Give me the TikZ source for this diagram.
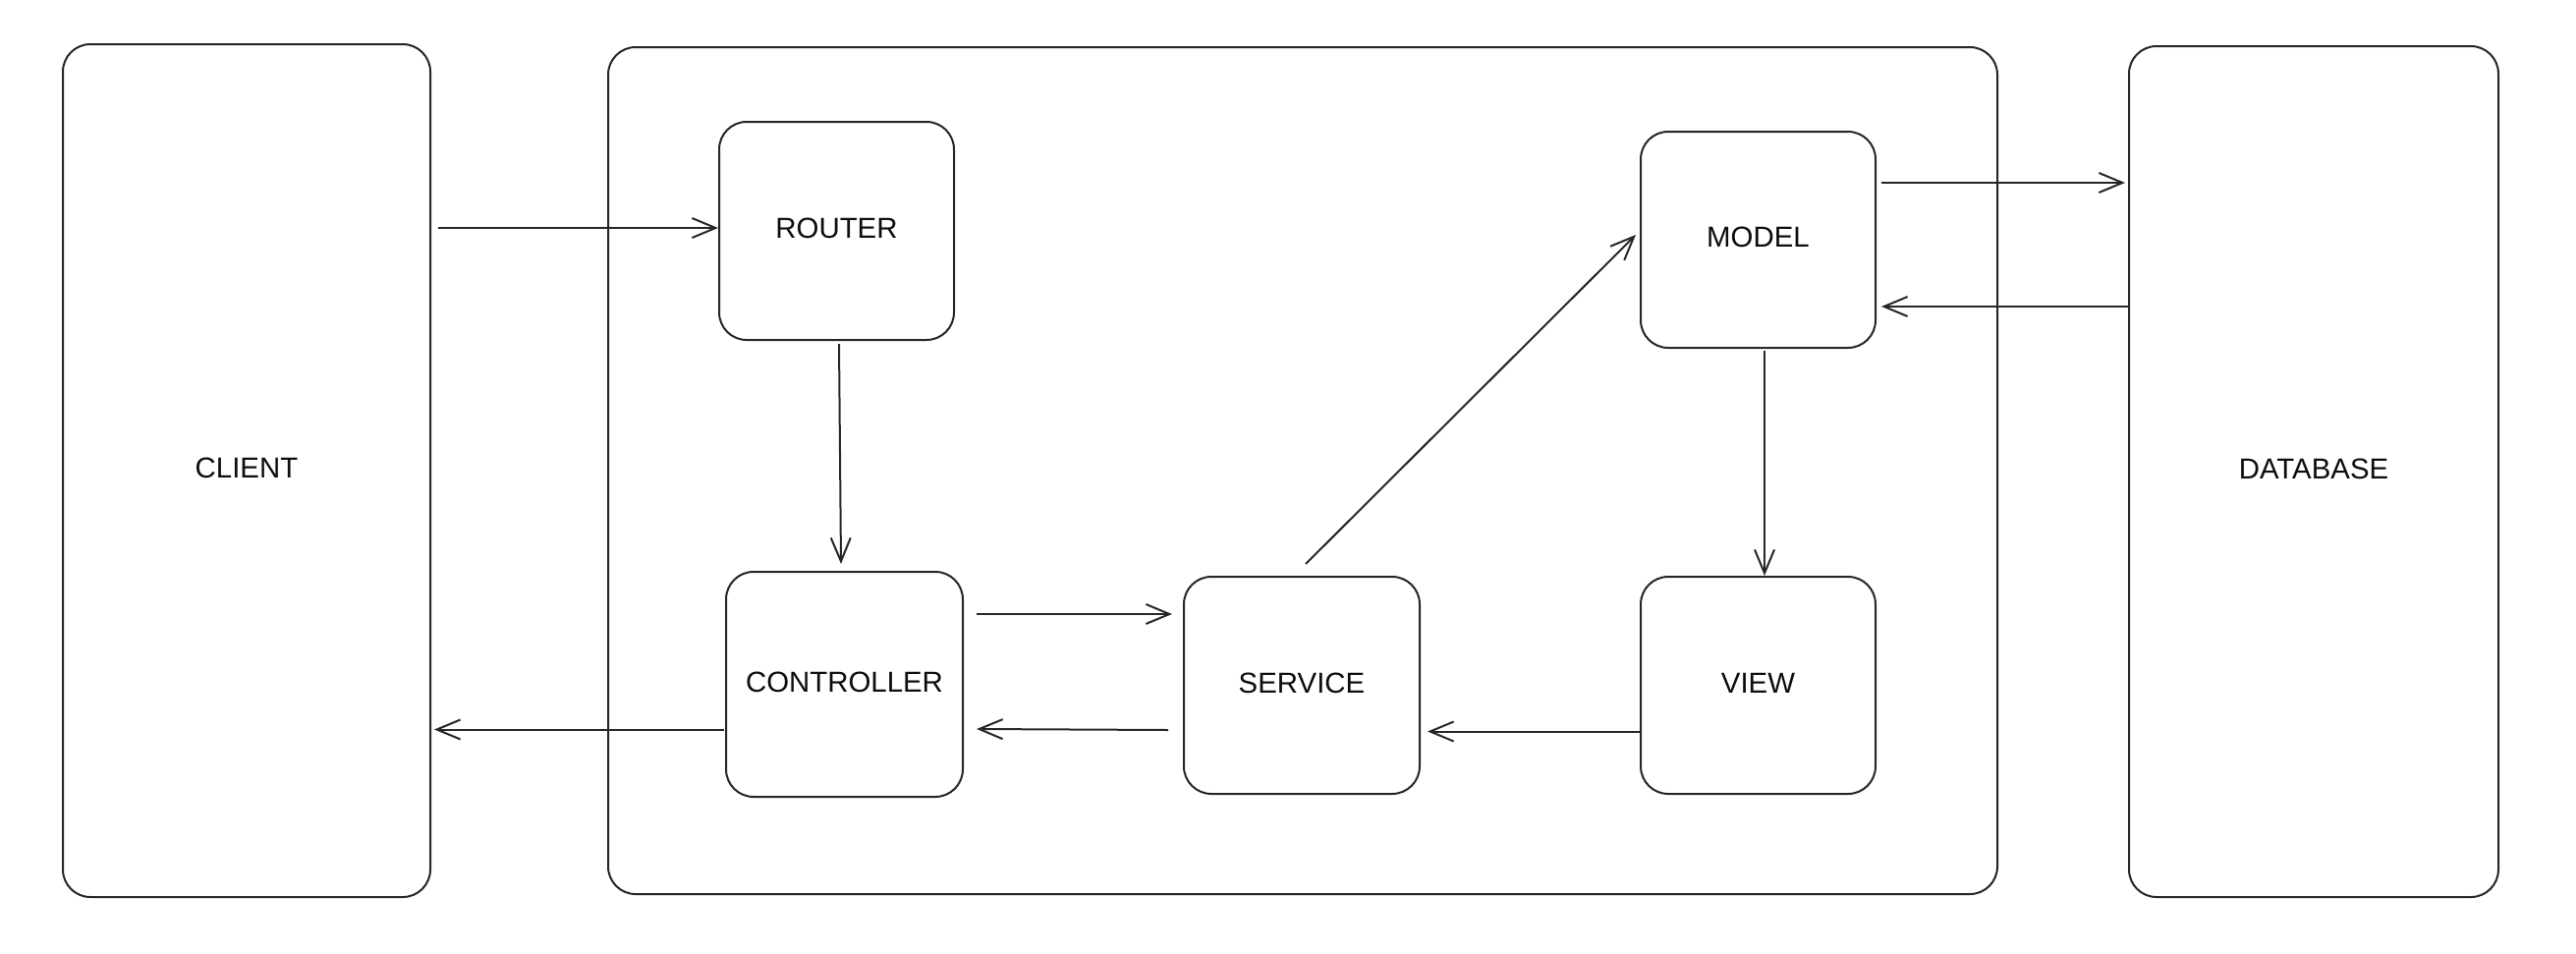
\documentclass[tikz,border=0pt]{standalone}
\usepackage{fontspec}
\setmainfont{Liberation Sans}
\usetikzlibrary{arrows.meta,calc}

\begin{document}
\begin{tikzpicture}[
  x=0.5pt, y=-0.5pt,
  line width=1pt,
  box/.style={draw=black!85, rounded corners=14pt, inner sep=0pt,
              font=\fontsize{14.7}{16}\selectfont, text=black!95, text depth=2.6pt},
  arr/.style={draw=black!85, -{Straight Barb[length=12pt,width=10pt,line width=1pt]}},
]
  % canvas
  \useasboundingbox (0,0) rectangle (2622,970);

  % outer tiers
  \node[box, minimum width=187pt, minimum height=434pt] (client) at (251,479) {CLIENT};
  \node[box, minimum width=707pt, minimum height=431pt] (app) at (1326,479) {};
  \node[box, minimum width=188pt, minimum height=433pt] (db) at (2355,480) {DATABASE};

  % application components
  \node[box, minimum width=119.5pt, minimum height=111pt] (router) at (851.5,235) {ROUTER};
  \node[box, minimum width=120.5pt, minimum height=114.5pt] (controller) at (859.5,696.5) {CONTROLLER};
  \node[box, minimum width=120pt, minimum height=110.5pt] (service) at (1325,697.5) {SERVICE};
  \node[box, minimum width=119.5pt, minimum height=110pt] (model) at (1789.5,244) {MODEL};
  \node[box, minimum width=119.5pt, minimum height=110.5pt] (view) at (1789.5,697.5) {VIEW};

  % request / response flow
  \draw[arr] ($(client.east)+(7,-247)$) -- ($(router.west)+(0,-3)$);
  \draw[arr] ($(router.south)+(2.5,3)$) -- ($(controller.north)+(-3.5,-7)$);
  \draw[arr] ($(controller.east)+(13,-71.5)$) -- ($(service.west)+(-11,-72.5)$);
  \draw[arr] ($(service.west)+(-15,45.5)$) -- ($(controller.east)+(13,45.5)$);
  \draw[arr] ($(controller.west)+(-1,46)$) -- ($(client.east)+(3,263.5)$);
  \draw[arr] ($(service.north)+(4,-12)$) -- ($(model.west)+(-4,-5)$);
  \draw[arr] ($(model.south)+(6.5,2)$) -- ($(view.north)+(6.5,0)$);
  \draw[arr] ($(view.west)+(0,47)$) -- ($(service.east)+(7,47)$);
  \draw[arr] ($(model.east)+(5,-58)$) -- ($(db.west)+(-3,-294)$);
  \draw[arr] ($(db.west)+(0,-168)$) -- ($(model.east)+(5,68)$);
\end{tikzpicture}
\end{document}
